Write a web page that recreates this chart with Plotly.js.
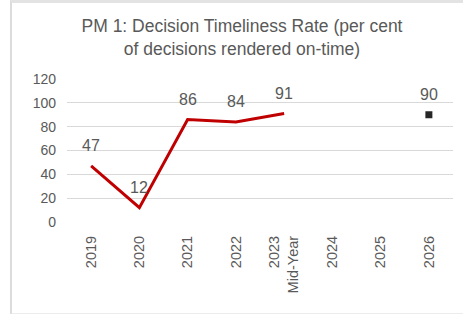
<!DOCTYPE html>
<html>
<head>
<meta charset="utf-8">
<script src="https://cdn.plot.ly/plotly-3.0.1.min.js"></script>
<style>
  html, body { margin: 0; padding: 0; background: #fff; }
  #chart { position: absolute; left: 0; top: 0; width: 463px; height: 314px; }
  #frame { position: absolute; left: 10px; top: 0; width: 460px; height: 310px;
           border-top: 3px solid #e3e3e3; border-left: 2px solid #dcdcdc; border-bottom: 2px solid #ececec;
           pointer-events: none; box-sizing: content-box; }
</style>
</head>
<body>
<div id="chart"></div>
<div id="frame"></div>
<script>
const categories = ['2019', '2020', '2021', '2022', '2023<br>Mid-Year', '2024', '2025', '2026'];
const actualValues = [47, 12, 86, 84, 91, null, null, null];
const targetValues = [null, null, null, null, null, null, null, 90];
const yTicks = [0, 20, 40, 60, 80, 100, 120];

const grey = '#595959';
const font = 'Liberation Sans, Arial, sans-serif';

const traces = [
  {
    x: categories, y: actualValues, type: 'scatter', mode: 'lines',
    line: { color: '#C00000', width: 3 }, connectgaps: false, hoverinfo: 'skip'
  },
  {
    x: categories, y: targetValues, type: 'scatter', mode: 'markers',
    marker: { symbol: 'square', size: 7, color: '#262626' }, hoverinfo: 'skip'
  }
];

const annotations = [];
categories.forEach((c, i) => {
  const v = actualValues[i] !== null ? actualValues[i] : targetValues[i];
  if (v !== null) {
    annotations.push({ x: i, y: v, xref: 'x', yref: 'y', text: String(v), showarrow: false, yshift: 20,
      font: { family: font, size: 16, color: grey } });
  }
});

const layout = {
  width: 463, height: 314,
  margin: { l: 67, r: 10, t: 79, b: 92 },
  paper_bgcolor: '#ffffff', plot_bgcolor: '#ffffff',
  showlegend: false,
  title: {
    text: 'PM 1: Decision Timeliness Rate (per cent<br>of decisions rendered on-time)',
    font: { family: font, size: 17.5, color: grey },
    x: 242 / 463, xanchor: 'center', xref: 'container',
    y: 1 - 32 / 314, yanchor: 'top', yref: 'container'
  },
  xaxis: {
    type: 'category', categoryorder: 'array', categoryarray: categories,
    range: [-0.5, 7.5], tickangle: -90, showgrid: false, zeroline: false,
    showline: false, ticks: '', ticklabelstandoff: 10,
    tickfont: { family: font, size: 14.5, color: grey }, fixedrange: true
  },
  yaxis: {
    range: [0, 120], tickvals: yTicks, ticktext: yTicks.map(String),
    showgrid: true, gridcolor: '#d9d9d9', gridwidth: 1, zeroline: false,
    showline: false, ticks: '', ticklabelstandoff: 10,
    tickfont: { family: font, size: 14, color: grey }, fixedrange: true
  },
  annotations: annotations
};

Plotly.newPlot('chart', traces, layout, { displayModeBar: false, staticPlot: true });
</script>
</body>
</html>
